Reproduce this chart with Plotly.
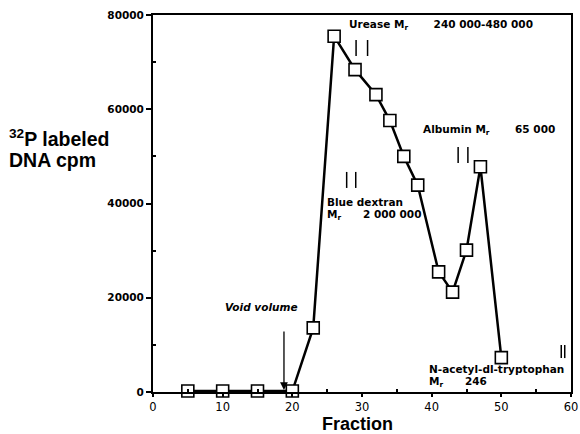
import plotly.graph_objects as go

fractions = [5, 10, 15, 20, 23, 26, 29, 32, 34, 36, 38, 41, 43, 45, 47, 50]
cpm = [200, 200, 200, 200, 13600, 75500, 68400, 63100, 57600, 50000, 43900,
       25500, 21200, 30100, 47800, 7300]
x_ticks = [0, 10, 20, 30, 40, 50, 60]
y_ticks = [0, 20000, 40000, 60000, 80000]

ANN_FONT = dict(family="DejaVu Sans", size=10.5, color="black")

# plot area targeted at x 153..571, y 15..392 in a 580x434 page
W, H = 580, 434
PL, PR, PT, PB = 153, 571, 15, 392


def px(p):
    return (p - PL) / (PR - PL)


def py(p):
    return (PB - p) / (PB - PT)


fig = go.Figure()
fig.add_trace(go.Scatter(
    x=fractions, y=cpm, mode="lines+markers",
    line=dict(color="black", width=2.5),
    marker=dict(symbol="square", size=12, color="white",
                line=dict(color="black", width=1.6)),
    cliponaxis=False, showlegend=False, hoverinfo="skip",
))

sp = "\u00a0"
anns = [
    dict(x=27.9, y=77900, text="<b>Urease M<sub>r</sub>" + sp * 7 + "240 000-480 000</b>"),
    dict(x=24.7, y=40300, text="<b>Blue dextran</b>"),
    dict(x=24.7, y=37500, text="<b>M<sub>r</sub>" + sp * 6 + "2 000 000</b>"),
    dict(x=38.5, y=55600, text="<b>Albumin M<sub>r</sub>" + sp * 7 + "65 000</b>"),
    dict(x=10.0, y=18100, text="<b><i>Void volume</i></b>"),
    dict(x=39.3, y=4900, text="<b>N-acetyl-dl-tryptophan</b>"),
    dict(x=39.3, y=2100, text="<b>M<sub>r</sub>" + sp * 6 + "246</b>"),
]
for a in anns:
    fig.add_annotation(xref="x", yref="y", xanchor="left", yanchor="middle",
                       showarrow=False, font=ANN_FONT, **a)

# void volume arrow
fig.add_annotation(x=18.8, y=400, ax=18.8, ay=13150, xref="x", yref="y",
                   axref="x", ayref="y", text="", showarrow=True,
                   arrowhead=2, arrowsize=1.2, arrowwidth=1.3, arrowcolor="black")

# double-bar markers
pairs = [
    (29.15, 30.8, 74700, 71300),
    (43.8, 45.2, 52000, 48600),
    (27.8, 29.1, 46700, 43300),
    (58.6, 59.1, 9970, 7200),
]
for x1, x2, ya, yb in pairs:
    for xx in (x1, x2):
        fig.add_shape(type="line", xref="x", yref="y", x0=xx, x1=xx, y0=ya, y1=yb,
                      line=dict(color="black", width=1.5))

# axis titles
YT_FONT = dict(family="Liberation Sans", size=19.5, color="black")
X_FONT = dict(family="Liberation Sans", size=18, color="black")
fig.add_annotation(xref="paper", yref="paper", x=px(7), y=py(138),
                   xanchor="left", yanchor="middle", showarrow=False,
                   text="<b><sup>32</sup>P labeled</b>", font=YT_FONT)
fig.add_annotation(xref="paper", yref="paper", x=px(7), y=py(160),
                   xanchor="left", yanchor="middle", showarrow=False,
                   text="<b>DNA cpm</b>", font=YT_FONT)
fig.add_annotation(xref="paper", yref="paper", x=px(357), y=py(424),
                   xanchor="center", yanchor="middle", showarrow=False,
                   text="<b>Fraction</b>", font=X_FONT)

fig.update_xaxes(range=[0, 60], tickvals=x_ticks, ticktext=[str(v) for v in x_ticks],
                 showgrid=False, zeroline=False, showline=True, linecolor="black",
                 linewidth=2, mirror=True, ticks="outside", ticklen=3, tickwidth=1.5,
                 tickcolor="black",
                 tickfont=dict(family="DejaVu Sans", size=11.5, color="black"),
                 minor=dict(tickvals=[5, 15, 25, 35, 45, 55], ticks="inside",
                            ticklen=3, tickcolor="black"))
fig.update_yaxes(range=[0, 80000], tickvals=y_ticks, ticktext=[str(v) for v in y_ticks],
                 showgrid=False, zeroline=False, showline=True, linecolor="black",
                 linewidth=2, mirror=True, ticks="outside", ticklen=5, tickwidth=1.5,
                 tickcolor="black",
                 tickfont=dict(family="DejaVu Sans", size=10.5, color="black", weight="bold"),
                 minor=dict(tickvals=[10000, 30000, 50000, 70000], ticks="inside",
                            ticklen=3, tickcolor="black"))

fig.update_layout(width=W, height=H,
                  margin=dict(l=PL, r=W - PR, t=PT, b=H - PB, autoexpand=False),
                  paper_bgcolor="white", plot_bgcolor="white", hovermode=False)

fig.write_html("out.html", config={"displayModeBar": False},
               post_script="document.body.style.margin='0';"
                           "document.body.style.overflow='hidden';")
